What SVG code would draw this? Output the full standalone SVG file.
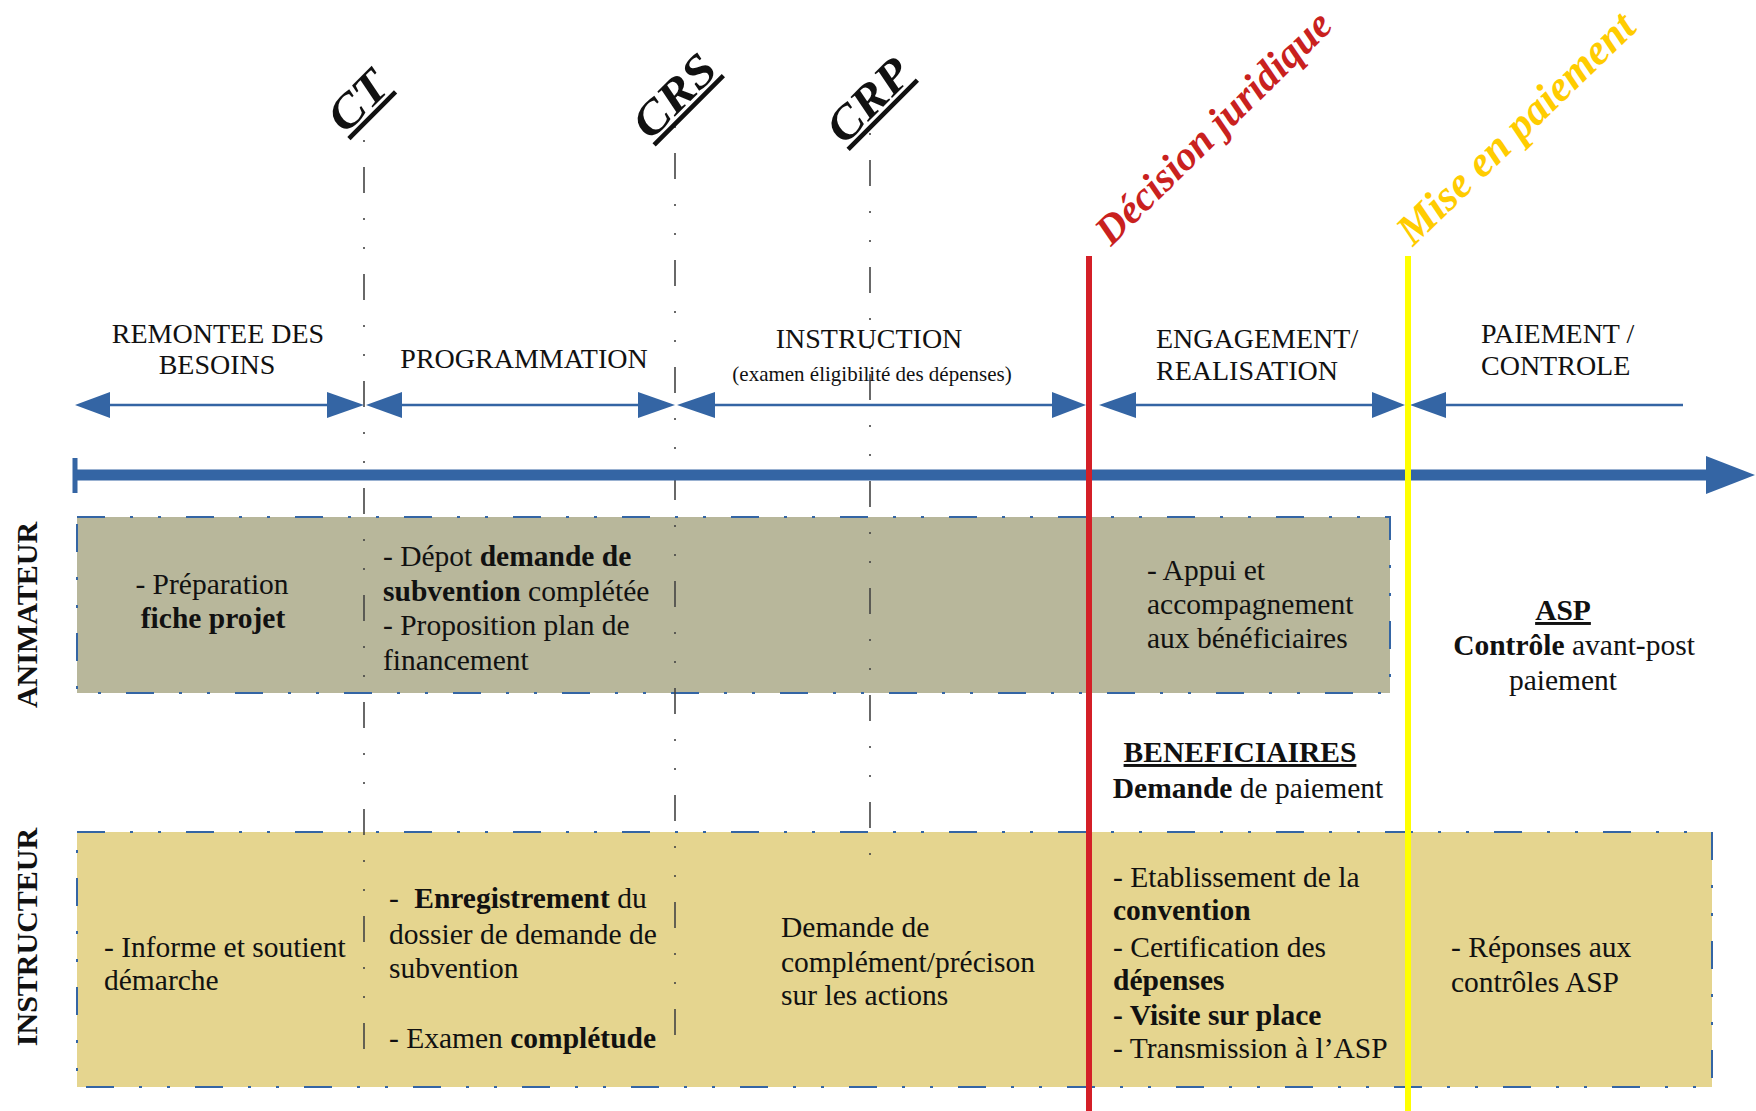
<svg xmlns="http://www.w3.org/2000/svg" width="1756" height="1111" viewBox="0 0 1756 1111">
<style>
text{font-family:"Liberation Serif","Times New Roman",serif;fill:#111}
.hd{font-size:28px}
.bd{font-size:29.5px}
.b{font-weight:bold}
.mid{text-anchor:middle}
.ms{font-size:46px;font-weight:bold;font-style:italic;text-decoration:underline;text-anchor:middle}
.big{font-size:41px;font-weight:bold;font-style:italic}
.side{font-size:30px;font-weight:bold;text-anchor:middle}
.vdash{stroke:#444;stroke-width:1.6;fill:none;stroke-dasharray:2 25 26 25 2 27}
.phase{stroke:#3465a4;stroke-width:2.5;fill:none}
.head{fill:#3465a4}
.box{stroke:#3465a4;stroke-width:2;stroke-dasharray:28 25 3 25 3 25}
</style>
<rect width="1756" height="1111" fill="#fff"/>

<g id="box-animateur">
<rect class="box" x="77" y="517" width="1313" height="176" fill="#b8b79b"/>
</g>
<g id="box-instructeur">
<rect class="box" x="77" y="832" width="1635" height="255" fill="#e5d58f"/>
</g>

<g id="milestones">
<line class="vdash" x1="364" y1="140" x2="364" y2="1062"/>
<line class="vdash" x1="675" y1="126" x2="675" y2="1050"/>
<line class="vdash" x1="870" y1="133" x2="870" y2="868"/>
</g>

<g id="connectors">
<line x1="75" y1="475" x2="1712" y2="475" stroke="#3465a4" stroke-width="11"/>
<rect x="72.5" y="458" width="5" height="35" fill="#3465a4"/>
<polygon class="head" points="1706,456 1755,475 1706,494"/>
<line class="phase" x1="100" y1="405" x2="340" y2="405"/>
<polygon class="head" points="75,405 110,392 110,418"/>
<polygon class="head" points="364,405 327,392 327,418"/>
<line class="phase" x1="390" y1="405" x2="650" y2="405"/>
<polygon class="head" points="366,405 402,392 402,418"/>
<polygon class="head" points="675,405 638,392 638,418"/>
<line class="phase" x1="700" y1="405" x2="1065" y2="405"/>
<polygon class="head" points="677,405 715,392 715,418"/>
<polygon class="head" points="1086,405 1052,392 1052,418"/>
<line class="phase" x1="1120" y1="405" x2="1385" y2="405"/>
<polygon class="head" points="1099,405 1136,392 1136,418"/>
<polygon class="head" points="1405,405 1372,392 1372,418"/>
<line class="phase" x1="1430" y1="405" x2="1683" y2="405"/>
<polygon class="head" points="1410,405 1446,392 1446,418"/>
<line x1="1089" y1="256" x2="1089" y2="1111" stroke="#d41f27" stroke-width="6"/>
<line x1="1408" y1="256" x2="1408" y2="1111" stroke="#ffff00" stroke-width="6"/>
</g>

<g id="milestone-labels">
<text class="ms" transform="translate(368.5,111.5) rotate(-45)" textLength="66" lengthAdjust="spacingAndGlyphs">CT</text>
<text class="ms" transform="translate(685,106.5) rotate(-45)" textLength="98" lengthAdjust="spacingAndGlyphs">CRS</text>
<text class="ms" transform="translate(879,111) rotate(-45)" textLength="98" lengthAdjust="spacingAndGlyphs">CRP</text>
<text class="big" style="fill:#c9211e" transform="translate(1111,247) rotate(-44.5)">Décision juridique</text>
<text class="big" style="fill:#ffcc00;font-size:43px" transform="translate(1413,247) rotate(-44)">Mise en paiement</text>
</g>

<g id="phase-labels">
<text class="hd mid" x="218" y="343">REMONTEE DES</text>
<text class="hd mid" x="217" y="374">BESOINS</text>
<text class="hd mid" x="524" y="368">PROGRAMMATION</text>
<text class="hd mid" x="869" y="348">INSTRUCTION</text>
<text class="mid" x="872" y="381" style="font-size:21px">(examen éligibilité des dépenses)</text>
<text class="hd" x="1156" y="348">ENGAGEMENT/</text>
<text class="hd" x="1156" y="380">REALISATION</text>
<text class="hd" x="1481" y="343">PAIEMENT /</text>
<text class="hd" x="1481" y="375">CONTROLE</text>
</g>

<g id="lane-labels">
<text class="side" transform="translate(37,615) rotate(-90)">ANIMATEUR</text>
<text class="side" transform="translate(37,937) rotate(-90)">INSTRUCTEUR</text>
</g>

<g id="animateur-texts">
<text class="bd mid" x="212" y="594">- Préparation</text>
<text class="bd mid b" x="213" y="628">fiche projet</text>
<text class="bd" x="383" y="566">- Dépot <tspan class="b">demande de</tspan></text>
<text class="bd" x="383" y="600.5"><tspan class="b">subvention</tspan> complétée</text>
<text class="bd" x="383" y="635">- Proposition plan de</text>
<text class="bd" x="383" y="669.5">financement</text>
<text class="bd" x="1147" y="580">- Appui et</text>
<text class="bd" x="1147" y="614">accompagnement</text>
<text class="bd" x="1147" y="648">aux bénéficiaires</text>
</g>

<g id="asp">
<text class="bd mid b" x="1563" y="620" style="text-decoration:underline">ASP</text>
<text class="bd mid" x="1574" y="655"><tspan class="b">Contrôle</tspan> avant-post</text>
<text class="bd mid" x="1563" y="690">paiement</text>
</g>

<g id="beneficiaires">
<text class="bd mid b" x="1240" y="762" style="text-decoration:underline">BENEFICIAIRES</text>
<text class="bd mid" x="1248" y="798"><tspan class="b">Demande</tspan> de paiement</text>
</g>

<g id="instructeur-texts">
<text class="bd" x="104" y="957">- Informe et soutient</text>
<text class="bd" x="104" y="990">démarche</text>
<text class="bd" x="389" y="908">- <tspan class="b" dx="8">Enregistrement</tspan> du</text>
<text class="bd" x="389" y="944">dossier de demande de</text>
<text class="bd" x="389" y="978">subvention</text>
<text class="bd" x="389" y="1048">- Examen <tspan class="b">complétude</tspan></text>
<text class="bd" x="781" y="937">Demande de</text>
<text class="bd" x="781" y="972">complément/précison</text>
<text class="bd" x="781" y="1005">sur les actions</text>
<text class="bd" x="1113" y="887">- Etablissement de la</text>
<text class="bd b" x="1113" y="920">convention</text>
<text class="bd" x="1113" y="957">- Certification des</text>
<text class="bd b" x="1113" y="990">dépenses</text>
<text class="bd b" x="1113" y="1025">- Visite sur place</text>
<text class="bd" x="1113" y="1058">- Transmission à l’ASP</text>
<text class="bd" x="1451" y="957">- Réponses aux</text>
<text class="bd" x="1451" y="992">contrôles ASP</text>
</g>
</svg>
